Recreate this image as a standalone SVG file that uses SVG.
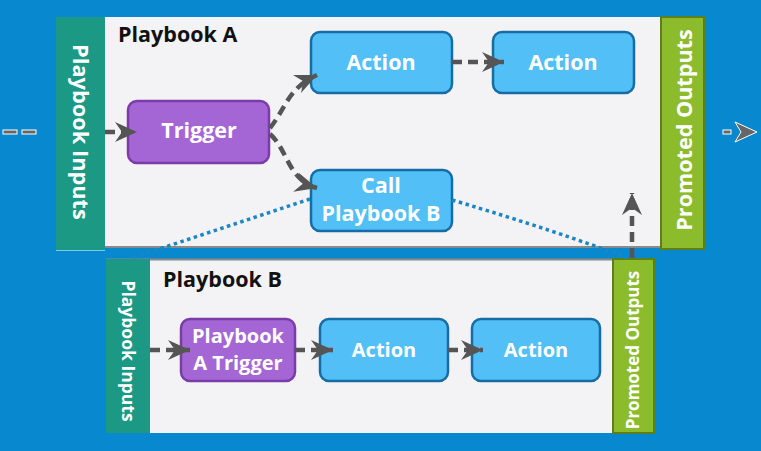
<svg xmlns="http://www.w3.org/2000/svg" width="761" height="451" viewBox="0 0 761 451">
<defs>
<style>
.panel{fill:#F3F2F5}
.inputs{fill:#1B9985}
.outputs{fill:#8CBB2B;stroke:#5C7F18;stroke-width:2}
.edge{stroke:#8A8A8A;stroke-width:2}
.title{font-family:"Open Sans","Liberation Sans",sans-serif;font-weight:bold;font-size:21.5px;fill:#111}
.bar{font-family:"Open Sans","Liberation Sans",sans-serif;font-weight:bold;fill:#fff;text-anchor:middle}
.trig{fill:#A566D5;stroke:#7A3CA8;stroke-width:2.5}
.act{fill:#52BFF6;stroke:#176CA6;stroke-width:2.5}
.lbl{font-family:"Open Sans","Liberation Sans",sans-serif;font-weight:bold;font-size:20px;fill:#fff;text-anchor:middle}
.lbla{font-size:21.5px}
.flow{fill:none;stroke:#555;stroke-width:4.5;stroke-dasharray:10 6}
.link{fill:none;stroke:#1B86C6;stroke-width:3.5;stroke-dasharray:3.5 3.5}
</style>
<marker id="ah" markerUnits="userSpaceOnUse" markerWidth="24" markerHeight="22" refX="22" refY="10" orient="auto" viewBox="0 0 24 22">
<path d="M0,0 L22,10 L0,20 L7,10 z" fill="#555"/>
</marker>
</defs>
<rect width="761" height="451" fill="#0888CF"/>

<g id="playbook-a">
<rect class="panel" x="105" y="17" width="555" height="231"/>
<line class="edge" x1="105" y1="247" x2="660" y2="247"/>
<line x1="56" y1="250" x2="105" y2="250" stroke="#fff" stroke-width="1"/>
<text class="title" x="118" y="42">Playbook A</text>
</g>
<g id="inputs-a">
<rect class="inputs" x="56" y="17" width="49" height="233"/>
<text class="bar" font-size="21.8" transform="translate(73,132) rotate(90)">Playbook Inputs</text>
</g>
<g id="outputs-a">
<rect class="outputs" x="661" y="17" width="43" height="232"/>
<text class="bar" font-size="21.6" transform="translate(692,130) rotate(-90)">Promoted Outputs</text>
</g>

<g id="playbook-b">
<rect class="panel" x="150" y="259" width="462" height="174"/>
<line class="edge" x1="106" y1="259.5" x2="612" y2="259.5"/>
<text class="title" x="163" y="287">Playbook B</text>
</g>
<g id="inputs-b">
<rect class="inputs" x="106" y="259" width="44" height="174"/>
<text class="bar" font-size="17.5" transform="translate(122,351) rotate(90)">Playbook Inputs</text>
</g>
<g id="outputs-b">
<rect class="outputs" x="613" y="259" width="41" height="174"/>
<text class="bar" font-size="17" transform="translate(639,350) rotate(-90)">Promoted Outputs</text>
</g>

<g id="trigger">
<rect class="trig" x="128" y="101" width="141" height="62" rx="9"/>
<text class="lbl lbla" x="199" y="138">Trigger</text>
</g>
<g id="action-a1">
<rect class="act" x="311" y="32" width="141" height="61" rx="9"/>
<text class="lbl lbla" x="381" y="69.5">Action</text>
</g>
<g id="action-a2">
<rect class="act" x="493" y="32" width="141" height="61" rx="9"/>
<text class="lbl lbla" x="563" y="69.5">Action</text>
</g>
<g id="call-b">
<rect class="act" x="311" y="170" width="141" height="61" rx="9"/>
<text class="lbl lbla" x="381" y="193">Call</text>
<text class="lbl lbla" x="381" y="221">Playbook B</text>
</g>
<g id="pb-a-trigger">
<rect class="trig" x="181" y="319" width="114" height="62" rx="9"/>
<text class="lbl" x="238" y="343">Playbook</text>
<text class="lbl" x="238" y="370">A Trigger</text>
</g>
<g id="action-b1">
<rect class="act" x="320" y="319" width="128" height="62" rx="9"/>
<text class="lbl" x="384" y="357">Action</text>
</g>
<g id="action-b2">
<rect class="act" x="472" y="319" width="128" height="62" rx="9"/>
<text class="lbl" x="536" y="357">Action</text>
</g>

<g id="connectors">
<path class="link" d="M310,199 L132,258"/>
<path class="link" d="M452,200 Q560,232 627,258"/>
<path class="flow" d="M105,132 L137,132" marker-end="url(#ah)"/>
<path class="flow" d="M270,128 C286,108 288,88 317,75" marker-end="url(#ah)"/>
<path class="flow" d="M270,134 C288,150 288,180 317,188" marker-end="url(#ah)"/>
<path class="flow" d="M452,62 L504,62" marker-end="url(#ah)"/>
<path class="flow" d="M632,258 L632,193" marker-end="url(#ah)"/>
<path class="flow" d="M150,350 L190,350" marker-end="url(#ah)"/>
<path class="flow" d="M295,350 L333,350" marker-end="url(#ah)"/>
<path class="flow" d="M448,350 L483,350" marker-end="url(#ah)"/>
<rect x="3" y="130" width="14" height="4" fill="#666" stroke="#fff" stroke-width="1"/>
<rect x="22" y="130" width="14" height="4" fill="#666" stroke="#fff" stroke-width="1"/>
<rect x="723" y="130" width="8" height="4" fill="#666" stroke="#fff" stroke-width="1"/>
<path d="M735,122 L757,132 L735,142 L741,132 z" fill="#666" stroke="#fff" stroke-width="1"/>
</g>
</svg>
